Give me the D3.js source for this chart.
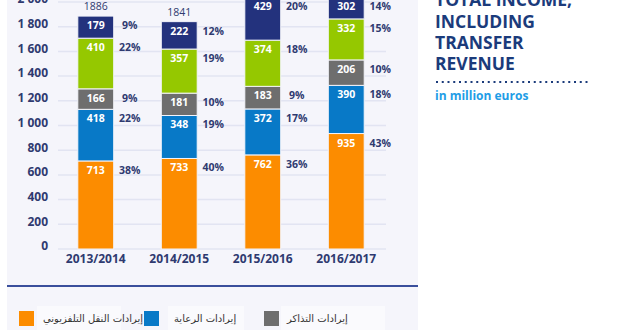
<!DOCTYPE html>
<html>
<head>
<meta charset="utf-8">
<script src="https://cdn.jsdelivr.net/npm/d3@7"></script>
<style>
html,body{margin:0;padding:0;background:#fff;}
svg{display:block;}
</style>
</head>
<body>
<svg id="chart" width="620" height="330"></svg>
<script>
// ---- data ----
const seasons = ["2013/2014", "2014/2015", "2015/2016", "2016/2017"];
const seriesKeys = ["tv", "sponsorship", "tickets", "merchandising", "transfers"];
const seriesNames = ["إيرادات النقل التلفزيوني", "إيرادات الرعاية", "إيرادات التذاكر", "إيرادات التسويق", "إيرادات الانتقالات"];
const tvValues = [713, 733, 762, 935];
const sponsorshipValues = [418, 348, 372, 390];
const ticketValues = [166, 181, 183, 206];
const merchandisingValues = [410, 357, 374, 332];
const transferValues = [179, 222, 429, 302];
const tvPct = ["38%", "40%", "36%", "43%"];
const sponsorshipPct = ["22%", "19%", "17%", "18%"];
const ticketPct = ["9%", "10%", "9%", "10%"];
const merchandisingPct = ["22%", "19%", "18%", "15%"];
const transferPct = ["9%", "12%", "20%", "14%"];
const totals = [1886, 1841, 2120, 2165];
const yTicks = [0, 200, 400, 600, 800, 1000, 1200, 1400, 1600, 1800, 2000];
const titleLines = ["TOTAL INCOME,", "INCLUDING", "TRANSFER", "REVENUE"];
const subtitle = "in million euros";

// ---- build table ----
const valuesBySeries = [tvValues, sponsorshipValues, ticketValues, merchandisingValues, transferValues];
const pctBySeries = [tvPct, sponsorshipPct, ticketPct, merchandisingPct, transferPct];
const table = seasons.map((s, i) => {
  const row = {season: s};
  seriesKeys.forEach((k, j) => row[k] = valuesBySeries[j][i]);
  return row;
});
const colors = {tv: "#fc8c00", sponsorship: "#0879c7", tickets: "#6e6e6e", merchandising: "#95c800", transfers: "#23327d"};

const svg = d3.select("#chart");
const fontMain = "'Open Sans', 'Liberation Sans', sans-serif";
const navyText = "#2f3a70";

// panel background
svg.append("rect").attr("x", 7).attr("y", 0).attr("width", 411).attr("height", 330).attr("fill", "#f5f5fb");

const x = d3.scaleBand().domain(seasons).range([54, 388]).paddingInner(0.57).paddingOuter(0.285);
const y = d3.scaleLinear().domain([0, 2000]).range([249, 2]);

// grid lines
svg.append("g").selectAll("line").data(yTicks).join("line")
  .attr("x1", 58).attr("x2", 386)
  .attr("y1", d => y(d)).attr("y2", d => y(d))
  .attr("stroke", "#e2e4f2").attr("stroke-width", 1.5);

// y axis labels
const yAxis = d3.axisLeft(y).tickValues(yTicks).tickSize(0).tickPadding(0)
  .tickFormat(d => d3.format(",")(d).replace(",", " "));
const gy = svg.append("g").attr("transform", "translate(48,0)").call(yAxis);
gy.select(".domain").remove();
gy.selectAll("text").attr("font-family", fontMain).attr("font-weight", 700).attr("font-size", 12)
  .attr("fill", navyText).attr("dy", "0.07em").attr("x", 0);

// x axis labels
const xAxis = d3.axisBottom(x).tickSize(0).tickPadding(0);
const gx = svg.append("g").attr("transform", "translate(0,254)").call(xAxis);
gx.select(".domain").remove();
gx.selectAll("text").attr("font-family", fontMain).attr("font-weight", 700).attr("font-size", 12)
  .attr("fill", navyText).attr("dy", "0.75em");

// stacked bars
const stack = d3.stack().keys(seriesKeys);
const stacked = stack(table);
const layers = svg.append("g").selectAll("g").data(stacked).join("g")
  .attr("fill", d => colors[d.key]);
layers.selectAll("rect").data(d => d).join("rect")
  .attr("x", d => x(d.data.season))
  .attr("width", x.bandwidth())
  .attr("y", d => y(d[1]))
  .attr("height", d => y(d[0]) - y(d[1]))
  .attr("stroke", "#f3f4fb").attr("stroke-width", 1);

// value labels and percentages
stacked.forEach((layer, j) => {
  layer.forEach((d, i) => {
    const top = y(d[1]);
    const ly = Math.max(top + 13, 9.5);
    svg.append("text")
      .attr("x", x(d.data.season) + x.bandwidth() / 2)
      .attr("y", ly)
      .attr("text-anchor", "middle")
      .attr("font-family", fontMain).attr("font-weight", 700).attr("font-size", 10.5)
      .attr("fill", "#fff")
      .text(valuesBySeries[j][i]);
    svg.append("text")
      .attr("x", x(d.data.season) + x.bandwidth() + 16)
      .attr("y", ly)
      .attr("text-anchor", "middle")
      .attr("font-family", fontMain).attr("font-weight", 700).attr("font-size", 10.5)
      .attr("fill", navyText)
      .text(pctBySeries[j][i]);
  });
});

// totals
svg.append("g").selectAll("text").data(seasons).join("text")
  .attr("x", d => x(d) + x.bandwidth() / 2)
  .attr("y", (d, i) => y(totals[i]) - 6)
  .attr("text-anchor", "middle")
  .attr("font-family", fontMain).attr("font-size", 10.5)
  .attr("fill", navyText)
  .text((d, i) => totals[i]);

// separator line
svg.append("line").attr("x1", 7).attr("x2", 418).attr("y1", 286).attr("y2", 286)
  .attr("stroke", "#3a4f9c").attr("stroke-width", 2);

// legend
const legendPos = [
  {sx: 19, sy: 311, tx: 43, ty: 322},
  {sx: 144, sy: 311, tx: 174, ty: 322},
  {sx: 264, sy: 311, tx: 287, ty: 322},
  {sx: 19, sy: 345, tx: 43, ty: 356},
  {sx: 144, sy: 345, tx: 174, ty: 356}
];
const legend = svg.append("g").selectAll("g").data(seriesKeys).join("g");
legend.append("rect")
  .attr("x", (d, i) => legendPos[i].tx - 6).attr("y", (d, i) => legendPos[i].sy - 5)
  .attr("width", (d, i) => i === 0 ? 84 : (i === 2 ? 104 : 76)).attr("height", 26)
  .attr("fill", "#fafafd");
legend.append("rect")
  .attr("x", (d, i) => legendPos[i].sx).attr("y", (d, i) => legendPos[i].sy)
  .attr("width", 15).attr("height", 15)
  .attr("fill", d => colors[d]);
legend.append("text")
  .attr("x", (d, i) => legendPos[i].tx).attr("y", (d, i) => legendPos[i].ty)
  .attr("font-family", "'DejaVu Sans', sans-serif").attr("font-size", 10)
  .attr("fill", "#333")
  .text((d, i) => seriesNames[i]);

// title block
const titleG = svg.append("g");
titleG.selectAll("text").data(titleLines).join("text")
  .attr("x", 435).attr("y", (d, i) => 6.3 + i * 21.3)
  .attr("font-family", fontMain).attr("font-weight", 700).attr("font-size", 17.5)
  .attr("fill", "#1b3b7b")
  .text(d => d);
svg.append("line").attr("x1", 436).attr("x2", 591).attr("y1", 82).attr("y2", 82)
  .attr("stroke", "#1b3b7b").attr("stroke-width", 2).attr("stroke-dasharray", "2 3.75");
svg.append("text").attr("x", 435).attr("y", 99.5)
  .attr("font-family", fontMain).attr("font-weight", 700).attr("font-size", 12)
  .attr("fill", "#1e9de6")
  .text(subtitle);
</script>
</body>
</html>
